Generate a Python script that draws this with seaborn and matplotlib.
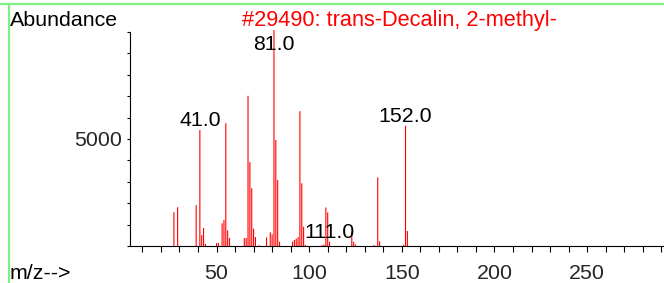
import matplotlib
matplotlib.use("Agg")
import matplotlib.pyplot as plt
from matplotlib.lines import Line2D
from matplotlib.ticker import MultipleLocator, FixedLocator
import seaborn as sns
import pandas as pd

# ---- data ----
mz = [27, 29, 39, 41, 42, 43, 44, 50, 51, 53, 54, 55, 56, 57,
      65, 66, 67, 68, 69, 70, 71, 73, 77, 79, 80, 81, 82, 83, 84,
      91, 92, 93, 94, 95, 96, 97, 98, 107, 108, 109, 110, 111,
      123, 124, 125, 135, 137, 138, 151, 152, 153]
abundance = [1580, 1810, 1910, 5420, 510, 840, 100, 130, 140, 1060, 1210, 5730, 730, 370,
             370, 380, 7020, 3920, 2700, 810, 420, 40, 400, 640, 550, 10090, 4950, 3080, 200,
             200, 280, 340, 420, 6300, 2930, 900, 50, 40, 60, 1800, 1570, 200,
             670, 200, 70, 50, 3210, 220, 60, 5620, 700]
labeled_mz = [41, 81, 111, 152]
x_ticks = [50, 100, 150, 200, 250]
y_ticks = [5000]
title = "#29490: trans-Decalin, 2-methyl-"

df = pd.DataFrame({"mz": mz, "abundance": abundance})

sns.set_style("ticks")
plt.rcParams["font.family"] = ["Liberation Sans", "DejaVu Sans"]

W, H = 664, 283
fig = plt.figure(figsize=(W / 100, H / 100), dpi=100)
ax = fig.add_axes([130 / W, (H - 246) / H, (W - 130) / W, (246 - 32) / H])

sns.barplot(data=df, x="mz", y="abundance", native_scale=True, width=0.6,
            color="#ff0000", saturation=1, linewidth=0, edgecolor="none",
            errorbar=None, ax=ax)
for p in ax.patches:
    p.set_facecolor("#ff0000")
    p.set_edgecolor("none")
    p.set_clip_on(False)
    p.set_snap(False)

ax.set_xlim(3.3, 291.5)
ax.set_ylim(0, 10000)
ax.set_xlabel("")
ax.set_ylabel("")
for s in ["top", "right"]:
    ax.spines[s].set_visible(False)
for s in ["left", "bottom"]:
    ax.spines[s].set_color("black")
    ax.spines[s].set_linewidth(0.8)

ax.xaxis.set_major_locator(FixedLocator(x_ticks))
ax.xaxis.set_minor_locator(MultipleLocator(10))
ax.yaxis.set_major_locator(FixedLocator(y_ticks))
ax.yaxis.set_minor_locator(MultipleLocator(1000))
ax.tick_params(axis="x", which="both", direction="out", length=4, width=0.8,
               color="black", labelsize=15.4, pad=9)
ax.tick_params(axis="y", which="both", direction="out", length=2.5, width=0.8,
               color="black", labelsize=15.4, pad=3)
ax.set_xticklabels([str(t) for t in x_ticks])
ax.set_yticklabels([str(t) for t in y_ticks])

cap = 8970
for m in labeled_mz:
    h = abundance[mz.index(m)]
    ax.annotate(f"{m:.1f}", xy=(m, min(h, cap)), xytext=(0, 4),
                textcoords="offset pixels", ha="center", va="baseline",
                fontsize=15.4, color="black", annotation_clip=False)

fig.text(10 / W, (H - 26) / H, "Abundance", fontsize=15.4, color="black",
         ha="left", va="baseline")
fig.text(242 / W, (H - 26) / H, title, fontsize=15.65, color="#ff0000",
         ha="left", va="baseline")
fig.text(10 / W, (H - 279) / H, "m/z-->", fontsize=15.4, color="black",
         ha="left", va="baseline")

green = "#80ee80"
fig.add_artist(Line2D([0, 1], [(H - 4) / H, (H - 4) / H], transform=fig.transFigure,
                      color=green, linewidth=1.6))
fig.add_artist(Line2D([9 / W, 9 / W], [0, (H - 4) / H], transform=fig.transFigure,
                      color=green, linewidth=1.6))

fig.savefig("out.png", dpi=100)
